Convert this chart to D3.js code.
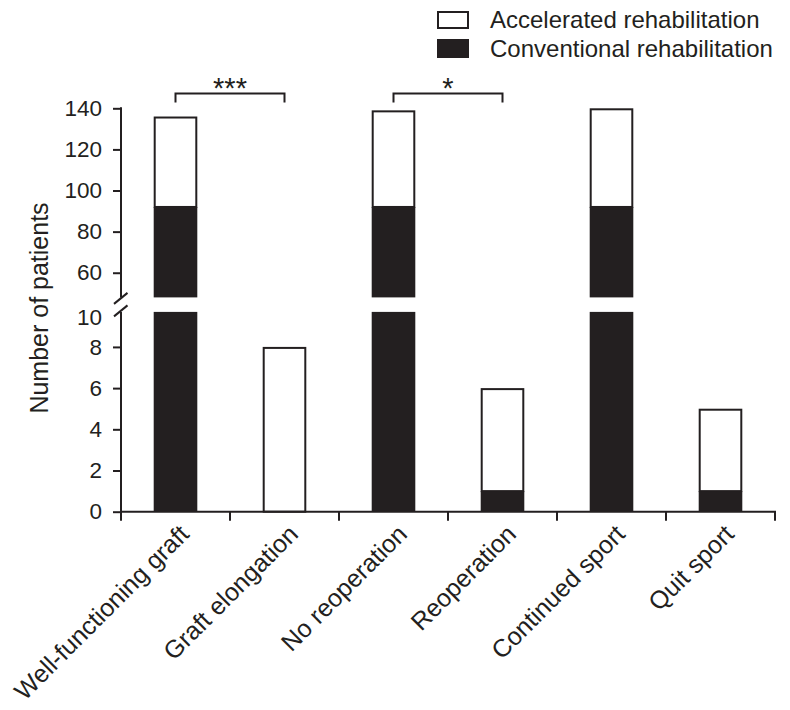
<!DOCTYPE html>
<html>
<head>
<meta charset="utf-8">
<script src="https://cdn.jsdelivr.net/npm/d3@7"></script>
<style>
  body { margin: 0; background: #fff; }
  text { font-family: "Liberation Sans", Arial, sans-serif; fill: #231f20; }
</style>
</head>
<body>
<div id="chart"></div>
<script>
var width = 790,
	height = 710;

var ink = "#231f20";

// data
var categories = ["Well-functioning graft", "Graft elongation", "No reoperation", "Reoperation", "Continued sport", "Quit sport"];
var conventional = [92, 0, 92, 1, 92, 1];
var accelerated = [44, 8, 47, 5, 48, 4];
var upperTicks = [60, 80, 100, 120, 140];
var lowerTicks = [0, 2, 4, 6, 8];
var seriesNames = ["Accelerated rehabilitation", "Conventional rehabilitation"];
var brackets = [{from: 0, to: 1, label: "***"}, {from: 2, to: 3, label: "*"}];

var svg = d3.select("#chart").append("svg")
	.attr("width", width)
	.attr("height", height);

var x = d3.scaleBand()
	.domain(categories)
	.range([121, 775])
	.paddingInner(0.6)
	.paddingOuter(0.3);

// broken y axis: two segments
var yUpper = d3.scaleLinear().domain([48, 140]).range([297.4, 108.3]);
var lowerMax = 9.7;
var yLower = d3.scaleLinear().domain([0, lowerMax]).range([511.7, 311.9]);
var segments = [yUpper, yLower];

// stacked parts per category
var parts = [];
categories.forEach(function(c, i){
	parts.push({cat: c, lo: 0, hi: conventional[i], fill: ink, stroke: "none"});
	parts.push({cat: c, lo: conventional[i], hi: conventional[i] + accelerated[i], fill: "#fff", stroke: ink});
});

segments.forEach(function(y){
	var d0 = y.domain()[0], d1 = y.domain()[1];
	var clipped = parts.map(function(p){
		return {cat: p.cat, lo: Math.max(p.lo, d0), hi: Math.min(p.hi, d1), fill: p.fill, stroke: p.stroke};
	}).filter(function(p){ return p.hi > p.lo; });

	// white parts first so that black parts sit over their bottom edge
	clipped.sort(function(a, b){ return (a.fill == ink) - (b.fill == ink); });

	svg.append("g").selectAll("rect")
	  .data(clipped)
	  .enter()
	  .append("rect")
	  .attr("x", function(d){ return x(d.cat) + (d.stroke == "none" ? 0 : 1); })
	  .attr("width", function(d){ return x.bandwidth() - (d.stroke == "none" ? 0 : 2); })
	  .attr("y", function(d){ return y(d.hi) + (d.stroke == "none" ? 0 : 1); })
	  .attr("height", function(d){ return y(d.lo) - y(d.hi) - (d.stroke == "none" ? 0 : 1); })
	  .style("fill", function(d){ return d.fill; })
	  .style("stroke", function(d){ return d.stroke; })
	  .style("stroke-width", 2);
});

// y axes
var axisUpper = svg.append("g")
	.attr("transform", "translate(121,0)")
	.call(d3.axisLeft(yUpper).tickValues(upperTicks).tickSize(8).tickPadding(11));
var axisLower = svg.append("g")
	.attr("transform", "translate(121,0)")
	.call(d3.axisLeft(yLower).tickValues(lowerTicks).tickSize(8).tickPadding(11));

[axisUpper, axisLower].forEach(function(a){
	a.select(".domain").remove();
	a.selectAll(".tick line").attr("stroke", ink).attr("stroke-width", 2);
	a.selectAll(".tick text").attr("font-size", "22.5px").style("font-family", "Liberation Sans, Arial, sans-serif").attr("fill", ink);
});

// axis lines for each segment
segments.forEach(function(y){
	svg.append("line")
	  .attr("x1", 121).attr("x2", 121)
	  .attr("y1", y.range()[0] + (y === yLower ? 1 : 0))
	  .attr("y2", y.range()[1] - (y === yUpper ? 1 : 0))
	  .attr("stroke", ink).attr("stroke-width", 2);
	// break slash at the broken end
	var yb = y === yUpper ? y.range()[0] + 1 : y.range()[1] - 1;
	svg.append("line")
	  .attr("x1", 114).attr("x2", 127.5)
	  .attr("y1", yb + 5.5).attr("y2", yb - 5.5)
	  .attr("stroke", ink).attr("stroke-width", 2);
});

// "10" label at top of the lower segment
svg.append("text")
	.attr("x", 102)
	.attr("y", yLower(lowerMax) + 6)
	.attr("dy", "0.32em")
	.attr("text-anchor", "end")
	.attr("font-size", "22.5px")
	.text("10");

// x axis
var xAxisY = yLower(0);
svg.append("line")
	.attr("x1", 120).attr("x2", 776)
	.attr("y1", xAxisY).attr("y2", xAxisY)
	.attr("stroke", ink).attr("stroke-width", 2);

var bounds = d3.range(categories.length + 1).map(function(i){ return x.range()[0] + i * x.step(); });
svg.append("g").selectAll("line")
	.data(bounds)
	.enter()
	.append("line")
	.attr("x1", function(d){ return d; })
	.attr("x2", function(d){ return d; })
	.attr("y1", xAxisY)
	.attr("y2", xAxisY + 9)
	.attr("stroke", ink).attr("stroke-width", 2);

svg.append("g").selectAll("text")
	.data(categories)
	.enter()
	.append("text")
	.attr("transform", function(d){
		return "translate(" + (x(d) + x.bandwidth() / 2 + 15) + "," + (xAxisY + 24) + ") rotate(-45)";
	})
	.attr("text-anchor", "end")
	.attr("font-size", "25px")
	.text(function(d){ return d; });

// y axis title
svg.append("text")
	.attr("transform", "translate(48,308) rotate(-90)")
	.attr("text-anchor", "middle")
	.attr("font-size", "25px")
	.text("Number of patients");

// significance brackets
brackets.forEach(function(b){
	var x1 = x(categories[b.from]) + x.bandwidth() / 2,
		x2 = x(categories[b.to]) + x.bandwidth() / 2,
		yb = 93.5;
	svg.append("path")
	  .attr("d", "M" + x1 + "," + (yb + 9) + "V" + yb + "H" + x2 + "V" + (yb + 9))
	  .attr("fill", "none")
	  .attr("stroke", ink).attr("stroke-width", 2);
	svg.append("text")
	  .attr("x", (x1 + x2) / 2)
	  .attr("y", yb + 4)
	  .attr("text-anchor", "middle")
	  .attr("font-size", "29px")
	  .text(b.label);
});

// legend
var legend = svg.append("g")
	.attr("class", "legend")
	.attr("transform", "translate(437,11)");

legend.selectAll("rect")
	.data(seriesNames)
	.enter()
	.append("rect")
	.attr("x", function(d, i){ return i == 0 ? 1 : 0; })
	.attr("y", function(d, i){ return i * 28 + (i == 0 ? 1 : 0); })
	.attr("width", function(d, i){ return i == 0 ? 30 : 32; })
	.attr("height", function(d, i){ return i == 0 ? 16 : 19; })
	.style("fill", function(d, i){ return i == 0 ? "#fff" : ink; })
	.style("stroke", function(d, i){ return i == 0 ? ink : "none"; })
	.style("stroke-width", 2);

legend.selectAll("text")
	.data(seriesNames)
	.enter()
	.append("text")
	.attr("x", 53)
	.attr("y", function(d, i){ return i * 29 + 17; })
	.attr("font-size", "24px")
	.text(function(d){ return d; });
</script>
</body>
</html>
